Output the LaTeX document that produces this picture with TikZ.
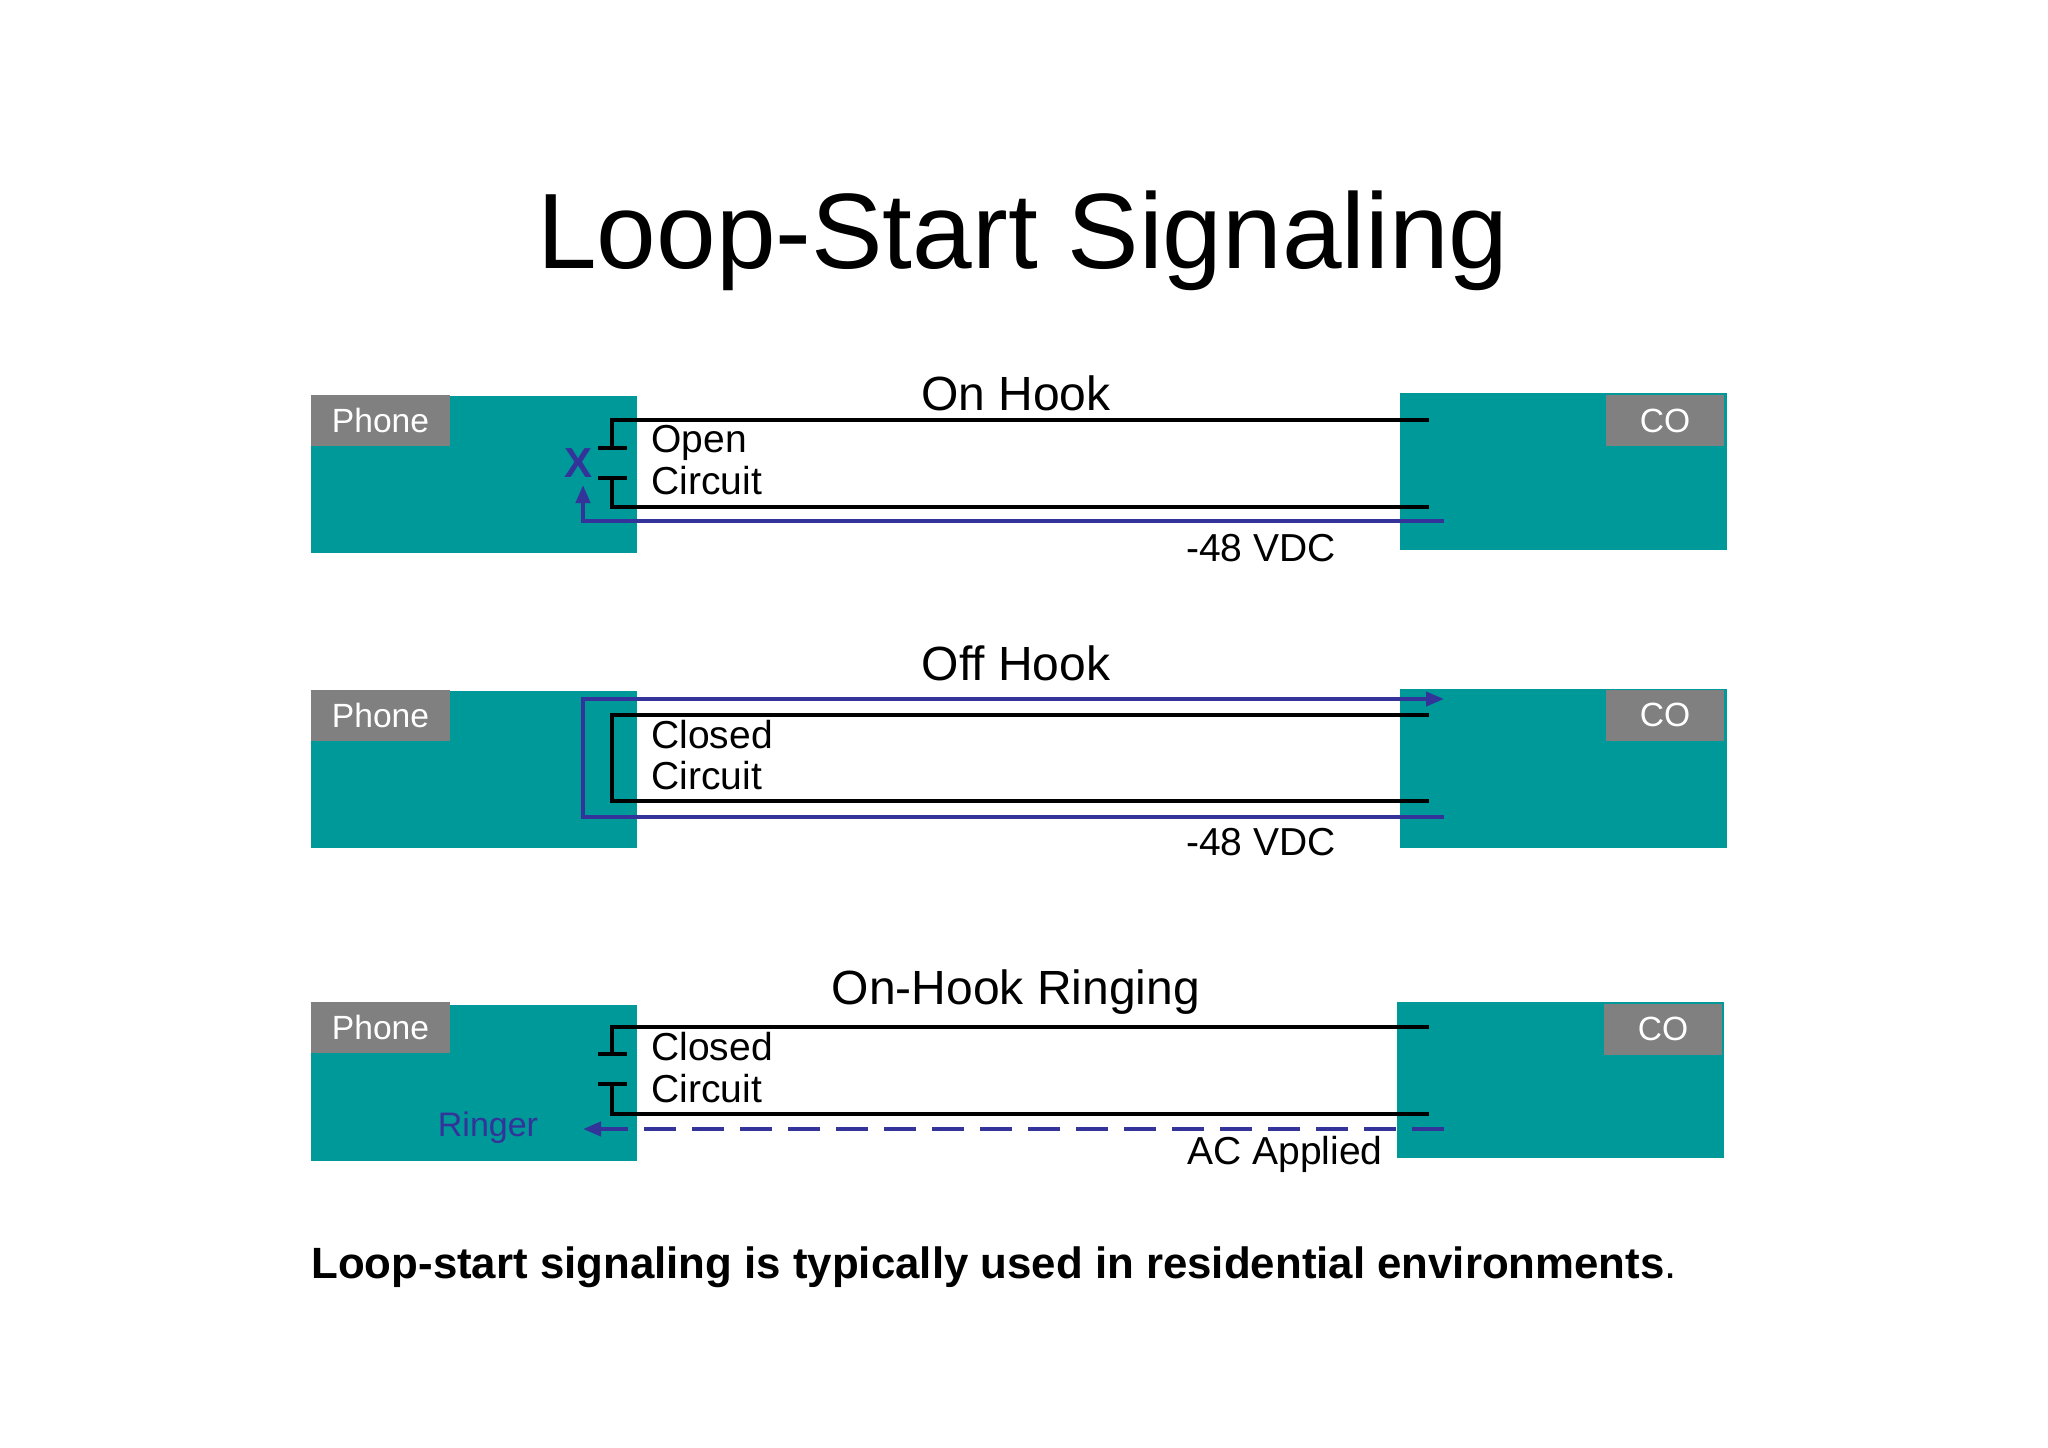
\documentclass[tikz,border=0pt]{standalone}
\usepackage{fontspec}
\setmainfont{Liberation Sans}
\usetikzlibrary{arrows.meta}
\definecolor{teal1}{HTML}{009999}
\definecolor{grey1}{HTML}{808080}
\definecolor{blu}{HTML}{333399}
\begin{document}
\begin{tikzpicture}[x=0.5pt,y=-0.5pt,
  tealbox/.style={fill=teal1,draw=none},
  lab/.style={fill=grey1,text=white,font=\fontsize{16.8}{18}\selectfont,inner sep=0pt,minimum height=25.5pt},
  phl/.style={lab,minimum width=69.5pt},
  col/.style={lab,minimum width=59pt},
  wire/.style={line width=2pt,black},
  bwire/.style={line width=2pt,blu},
  txt/.style={font=\fontsize{19.5}{21}\selectfont,inner sep=0pt,anchor=west},
  hd/.style={font=\fontsize{24}{26}\selectfont,inner sep=0pt},
  tip/.style={-{Triangle[length=9pt,width=7pt]}}]
\useasboundingbox (0,0) rectangle (2048,1447);
\node[font=\fontsize{53.6}{58}\selectfont] (title) at (1023,241) {Loop-Start Signaling};
% ---- panel 1
\path[tealbox] (311,396) rectangle (637,553);
\path[tealbox] (1400,393) rectangle (1727,550);
\node[phl] (ph1) at (380.5,420.5) {Phone};
\node[col] (co1) at (1665,420.5) {CO};
\node[hd] (h1) at (1016,393) {On Hook};
\coordinate (a1) at (1429,420); \coordinate (b1) at (1429,507);
\draw[wire] (a1) -- (612,420) -- (612,448) (598,448) -- (627,448);
\draw[wire] (598,478) -- (627,478) (612,478) -- (612,507) -- (b1);
\node[txt] (t1a) at (651,443) {Open};
\node[txt] (t1b) at (651,481) {Circuit};
\node[font=\bfseries\fontsize{21}{22}\selectfont,text=blu,inner sep=0pt] (x1) at (578,463) {X};
\coordinate (s1) at (1444,521);
\draw[bwire,tip] (s1) -- (583,521) -- (583,485);
\node[txt,anchor=center] (v1) at (1261,548) {-48 VDC};
% ---- panel 2
\path[tealbox] (311,691) rectangle (637,848);
\path[tealbox] (1400,689) rectangle (1727,848);
\node[phl] (ph2) at (380.5,715) {Phone};
\node[col] (co2) at (1665,715) {CO};
\node[hd] (h2) at (1016,663) {Off Hook};
\coordinate (e2) at (1444,699); \coordinate (f2) at (1444,817);
\draw[bwire,tip] (f2) -- (583,817) -- (583,699) -- (e2);
\coordinate (a2) at (1429,715); \coordinate (b2) at (1429,801);
\draw[wire] (a2) -- (612,715) -- (612,801) -- (b2);
\node[txt] (t2a) at (651,735) {Closed};
\node[txt] (t2b) at (651,776) {Circuit};
\node[txt,anchor=center] (v2) at (1261,842) {-48 VDC};
% ---- panel 3
\path[tealbox] (311,1005) rectangle (637,1161);
\path[tealbox] (1397,1002) rectangle (1724,1158);
\node[phl] (ph3) at (380.5,1027.5) {Phone};
\node[col] (co3) at (1663,1029) {CO};
\node[hd] (h3) at (1016,992) {On-Hook Ringing};
\coordinate (a3) at (1429,1027); \coordinate (b3) at (1429,1114);
\draw[wire] (a3) -- (612,1027) -- (612,1054) (598,1054) -- (627,1054);
\draw[wire] (598,1084) -- (627,1084) (612,1084) -- (612,1114) -- (b3);
\node[txt] (t3a) at (651,1047) {Closed};
\node[txt] (t3b) at (651,1089) {Circuit};
\coordinate (s3) at (1444,1129);
\draw[bwire,tip,dash pattern=on 16pt off 8pt] (s3) -- (583,1129);
\node[font=\fontsize{17}{19}\selectfont,text=blu,inner sep=0pt] (r3) at (488,1128) {Ringer};
\node[txt,anchor=center] (v3) at (1285,1154) {AC Applied};
% ---- footer
\node[font=\bfseries\fontsize{21.9}{24}\selectfont,inner sep=0pt,anchor=west] (ft) at (311,1267) {Loop-start signaling is typically used in residential environments\mdseries.};
\end{tikzpicture}
\end{document}
